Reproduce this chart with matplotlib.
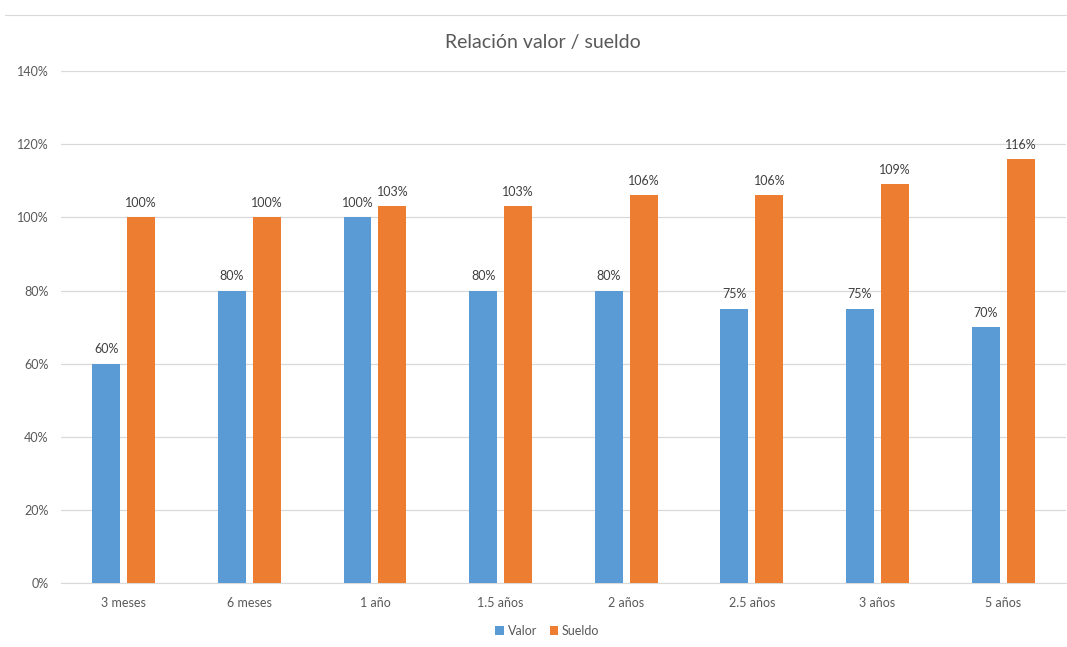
import numpy as np
import matplotlib.pyplot as plt
from matplotlib.lines import Line2D
from matplotlib.ticker import FuncFormatter

# Data
categories = ["3 meses", "6 meses", "1 año", "1.5 años", "2 años", "2.5 años", "3 años", "5 años"]
valor = [60, 80, 100, 80, 80, 75, 75, 70]
sueldo = [100, 100, 103, 103, 106, 106, 109, 116]

BLUE = "#5B9BD5"
ORANGE = "#ED7D31"
GREY = "#595959"

plt.rcParams["font.family"] = ["Lato", "DejaVu Sans"]

fig = plt.figure(figsize=(10.67, 6.47), dpi=100)
ax = fig.add_axes([0.057, 0.099, 0.942, 0.791])

x = np.arange(len(categories))
w = 0.222
off = 0.139
b1 = ax.bar(x - off, valor, w, color=BLUE, label="Valor", zorder=3)
b2 = ax.bar(x + off, sueldo, w, color=ORANGE, label="Sueldo", zorder=3)

for bars, vals in ((b1, valor), (b2, sueldo)):
    for bar, v in zip(bars, vals):
        ax.annotate(f"{v}%", (bar.get_x() + bar.get_width() / 2, v),
                    xytext=(0, 6), textcoords="offset points",
                    ha="center", va="bottom", fontsize=9, color="#404040")

ax.set_xlim(-0.5, len(categories) - 0.5)
ax.set_ylim(0, 140)
ax.set_yticks(range(0, 141, 20))
ax.yaxis.set_major_formatter(FuncFormatter(lambda v, p: f"{v:.0f}%"))
ax.set_xticks(x)
ax.set_xticklabels(categories)
ax.tick_params(axis="both", length=0, labelsize=9, colors=GREY)
ax.tick_params(axis="x", pad=10)
ax.tick_params(axis="y", pad=9)
ax.grid(axis="y", color="#D9D9D9", linewidth=0.9, zorder=0)
for s in ("top", "right", "left"):
    ax.spines[s].set_visible(False)
ax.spines["bottom"].set_color("#D9D9D9")

fig.text(0.509, 0.935, "Relación valor / sueldo", ha="center", va="center",
         fontsize=14, color=GREY)

fig.legend(handles=[b1, b2], labels=["Valor", "Sueldo"], loc="center",
           bbox_to_anchor=(0.513, 0.025), ncol=2, frameon=False, fontsize=9,
           labelcolor=GREY, handlelength=0.7, handleheight=0.7,
           handletextpad=0.3, columnspacing=1.0)

# faint spreadsheet border at the top
fig.add_artist(Line2D([0.005, 1.0], [0.977, 0.977], color="#D9D9D9", linewidth=0.8))

fig.savefig("out.png", dpi=100)
